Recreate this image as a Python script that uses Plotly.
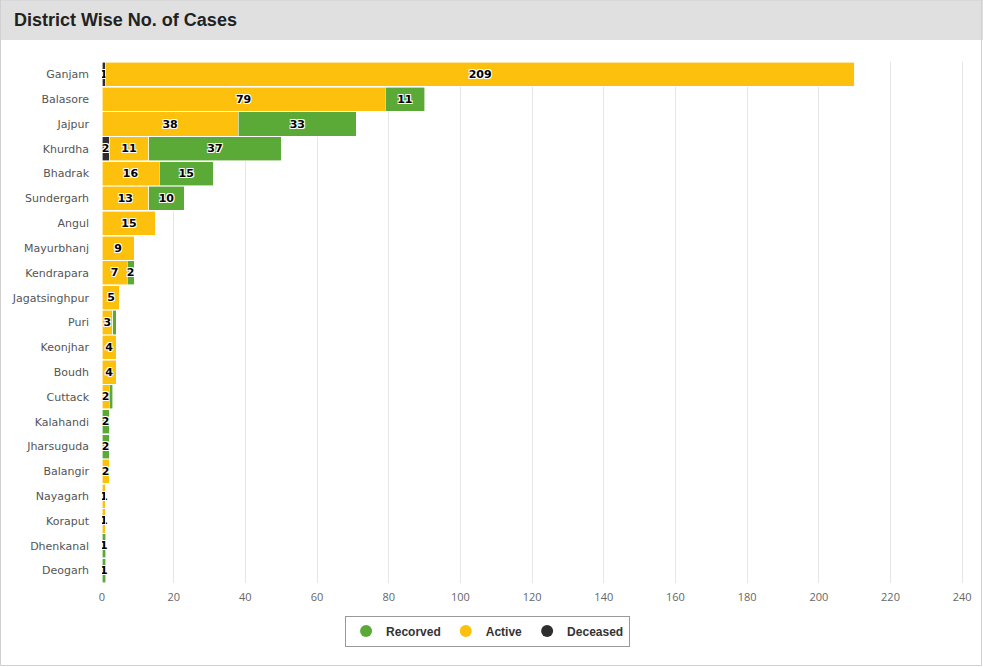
import plotly.graph_objects as go

districts = ["Ganjam", "Balasore", "Jajpur", "Khurdha", "Bhadrak", "Sundergarh", "Angul",
             "Mayurbhanj", "Kendrapara", "Jagatsinghpur", "Puri", "Keonjhar", "Boudh",
             "Cuttack", "Kalahandi", "Jharsuguda", "Balangir", "Nayagarh", "Koraput",
             "Dhenkanal", "Deogarh"]
deceased = [1, 0, 0, 2, 0, 0, 0, 0, 0, 0, 0, 0, 0, 0, 0, 0, 0, 0, 0, 0, 0]
active = [209, 79, 38, 11, 16, 13, 15, 9, 7, 5, 3, 4, 4, 2, 0, 0, 2, 1, 1, 0, 0]
recovered = [0, 11, 33, 37, 15, 10, 0, 0, 2, 0, 1, 0, 0, 1, 2, 2, 0, 0, 0, 1, 1]
# labels the original hides because they would overlap
hidden_recovered = ["Puri", "Cuttack"]

x_ticks = list(range(0, 241, 20))

C_REC = "#5BAA37"
C_ACT = "#FDC00C"
C_DEC = "#2E2E2E"


def labels(vals, hidden=()):
    return [str(v) if v > 0 and d not in hidden else "" for v, d in zip(vals, districts)]


txtfont = dict(family="DejaVu Sans", size=11, color="#000000", weight="bold",
               shadow="1px 1px 0 #fff, -1px -1px 0 #fff, 1px -1px 0 #fff, -1px 1px 0 #fff")

fig = go.Figure()
for name, vals, col, hid in [("Deceased", deceased, C_DEC, ()),
                             ("Active", active, C_ACT, ()),
                             ("Recorved", recovered, C_REC, hidden_recovered)]:
    fig.add_trace(go.Bar(
        y=districts, x=vals, orientation="h", name=name,
        marker=dict(color=col, line=dict(color="#ffffff", width=0.6)),
        text=labels(vals, hid), textposition="inside", insidetextanchor="middle",
        textangle=0, constraintext="none", textfont=txtfont,
        showlegend=False, hoverinfo="x+y+name"))

# legend entries with circle symbols
for name, col in [("Recorved", C_REC), ("Active", C_ACT), ("Deceased", C_DEC)]:
    fig.add_trace(go.Scatter(x=[None], y=[None], mode="markers", name=name,
                             marker=dict(color=col, size=11, symbol="circle")))

W, H = 983, 667
L, R, T, B = 102, 19, 62, 84
pw, ph = W - L - R, H - T - B

def px_x(p):
    return (p - L) / pw

def px_y(p):
    return (H - B - p) / ph

fig.update_layout(
    width=W, height=H,
    margin=dict(l=L, r=R, t=T, b=B),
    paper_bgcolor="#ffffff", plot_bgcolor="#ffffff",
    barmode="stack", bargap=0.03,
    uniformtext=dict(mode="show", minsize=8),
    title=dict(text="<b>District Wise No. of Cases</b>", xref="container", yref="container",
               x=14 / W, xanchor="left", y=1 - 20 / H, yanchor="middle",
               font=dict(family="Liberation Sans", size=18, color="#222222")),
    xaxis=dict(range=[0, 240.5], tickvals=x_ticks, showgrid=True, gridcolor="#e6e6e6",
               gridwidth=1, zeroline=False, showline=False, ticks="",
               tickfont=dict(family="Open Sans", size=11, color="#666666"),
               ticklabelstandoff=6, fixedrange=True),
    yaxis=dict(categoryorder="array", categoryarray=districts, autorange="reversed",
               showgrid=False, zeroline=False, showline=False, ticks="",
               tickfont=dict(family="DejaVu Sans", size=11, color="#555555"),
               ticklabelstandoff=12, fixedrange=True),
    legend=dict(orientation="h", xref="container", yref="container",
                x=0.496, xanchor="center", y=1 - 631 / H, yanchor="middle",
                bgcolor="#ffffff", bordercolor="#999999", borderwidth=1,
                font=dict(family="Liberation Sans", size=12, color="#333333", weight="bold"),
                itemwidth=30, itemsizing="constant", traceorder="normal"),
    shapes=[
        dict(type="rect", xref="paper", yref="paper",
             x0=px_x(0), x1=px_x(W), y0=px_y(40), y1=px_y(0),
             fillcolor="#e0e0e0", line=dict(width=0), layer="below"),
        dict(type="rect", xref="paper", yref="paper",
             x0=px_x(0.5), x1=px_x(981.5), y0=px_y(665.5), y1=px_y(0),
             fillcolor="rgba(0,0,0,0)", line=dict(color="#d0d0d0", width=1), layer="below"),
    ],
)

fig.write_html("out.html")
